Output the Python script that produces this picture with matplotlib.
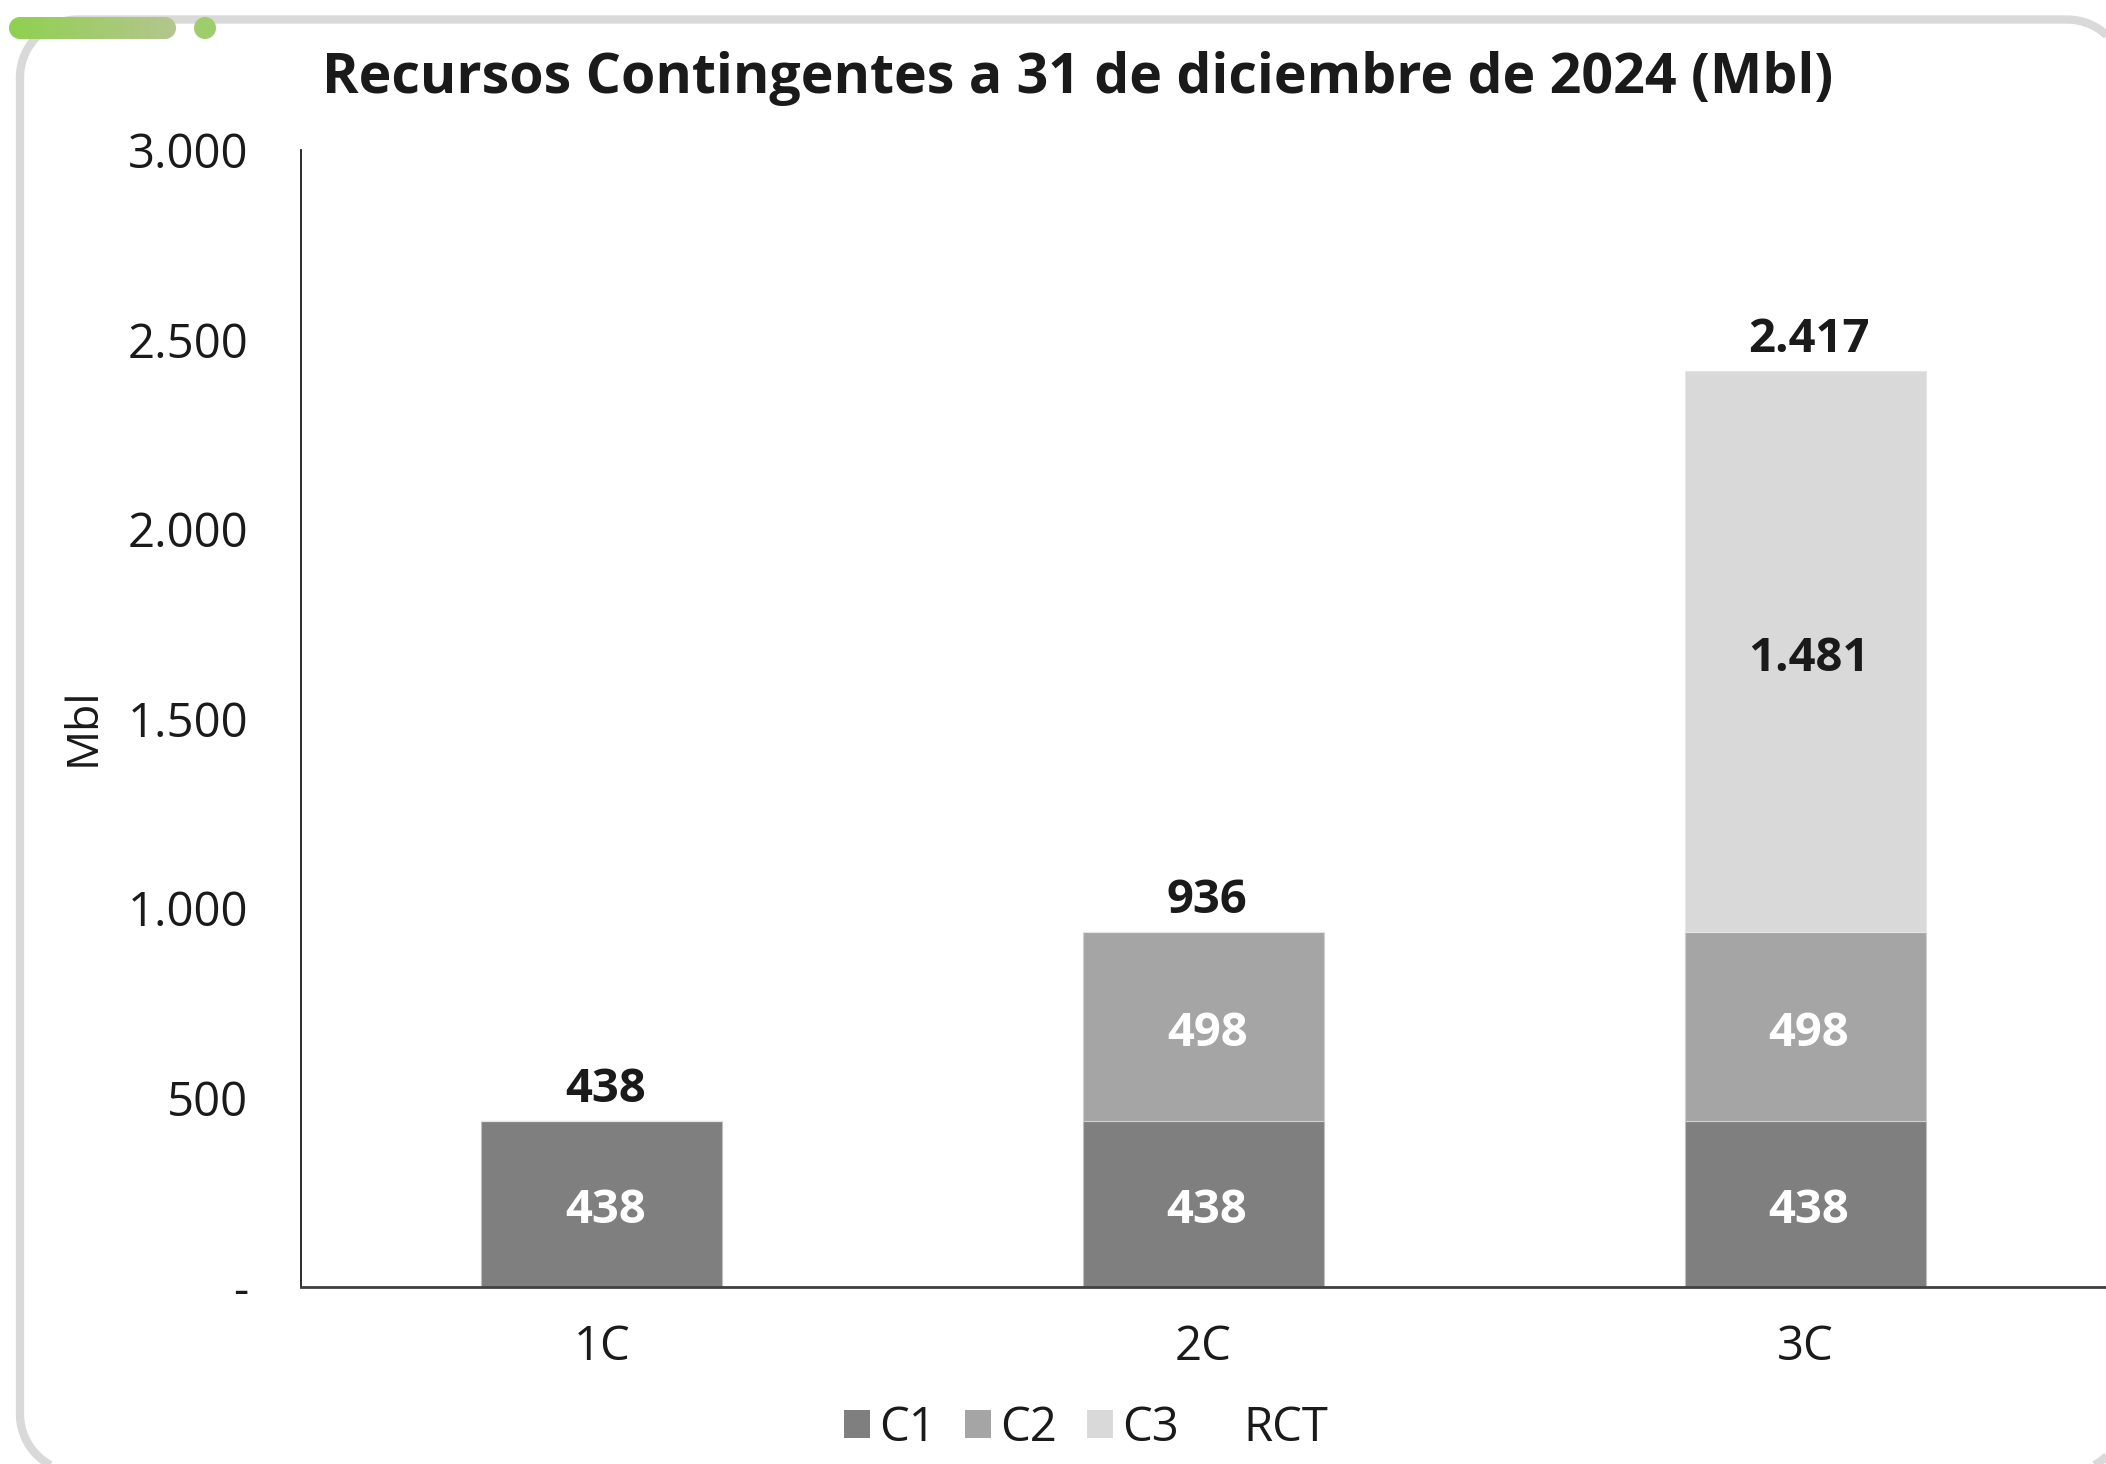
import matplotlib
matplotlib.use("Agg")
import matplotlib.pyplot as plt
import numpy as np
from matplotlib.patches import Patch, Circle, Polygon

# ---------------- data ----------------
categories = ["1C", "2C", "3C"]
c1 = [438, 438, 438]
c2 = [0, 498, 498]
c3 = [0, 0, 1481]
totals = [438, 936, 2417]
series_names = ["C1", "C2", "C3", "RCT"]
colors = ["#7f7f7f", "#a5a5a5", "#d9d9d9"]
yticks = [0, 500, 1000, 1500, 2000, 2500, 3000]
title = "Recursos Contingentes a 31 de diciembre de 2024 (Mbl)"
ylabel = "Mbl"

plt.rcParams['font.family'] = ['Open Sans', 'DejaVu Sans']


def fmt(v):
    if v == 0:
        return "-"
    return f"{v:,.0f}".replace(",", ".")


def rounded_rect(x0, y0, x1, y1, r, n=40):
    """Vertices of a rounded rectangle (y grows downward), as a closed polyline."""
    pts = []
    corners = [((x1 - r, y0 + r), -90, 0),    # top-right
               ((x1 - r, y1 - r), 0, 90),     # bottom-right
               ((x0 + r, y1 - r), 90, 180),   # bottom-left
               ((x0 + r, y0 + r), 180, 270)]  # top-left
    for (cx, cy), a0, a1 in corners:
        t = np.radians(np.linspace(a0, a1, n))
        pts.append(np.column_stack([cx + r * np.cos(t), cy + r * np.sin(t)]))
    return np.vstack(pts)


W, H = 2106, 1464
fig = plt.figure(figsize=(W / 100, H / 100), dpi=100, facecolor="white")

# ---------- background decoration axes (pixel coordinates, y downward) ----------
bg = fig.add_axes([0, 0, 1, 1], zorder=0)
bg.axis("off")

frame = Polygon(rounded_rect(20, 19.5, 2125, 1472, 58), closed=True,
                facecolor="none", edgecolor="#d9d9d9", linewidth=6.0, joinstyle="round")
bg.add_patch(frame)

# green gradient capsule
gx0, gx1, gy0, gy1 = 9, 176, 17, 39
grad = np.linspace(0, 1, 256)
c_start = np.array([143, 209, 79]) / 255
c_end = np.array([180, 198, 142]) / 255
img = (c_start[None, :] * (1 - grad[:, None]) + c_end[None, :] * grad[:, None])[None, :, :]
im = bg.imshow(img, extent=(gx0, gx1, gy1, gy0), aspect="auto", zorder=2)
cap = Polygon(rounded_rect(gx0, gy0, gx1, gy1, (gy1 - gy0) / 2), closed=True,
              facecolor="none", edgecolor="none")
bg.add_patch(cap)
im.set_clip_path(cap)
bg.add_patch(Circle((205, 28), 11, facecolor="#9fcd6b", edgecolor="none", zorder=2))
bg.set_xlim(0, W)
bg.set_ylim(H, 0)

# ---------------- main axes ----------------
ax_left, ax_right, ax_bottom, ax_top = 301, 2106, 1287, 150
ax = fig.add_axes([ax_left / W, (H - ax_bottom) / H,
                   (ax_right - ax_left) / W, (ax_bottom - ax_top) / H], zorder=1)
ax.set_facecolor("none")

x = np.arange(len(categories))
bw = 0.4
ax.bar(x, c1, bw, color=colors[0], edgecolor="#bfbfbf", linewidth=0.8, zorder=3)
ax.bar(x, c2, bw, bottom=c1, color=colors[1], edgecolor="#cfcfcf", linewidth=0.8, zorder=3)
bottom3 = [a + b for a, b in zip(c1, c2)]
ax.bar(x, c3, bw, bottom=bottom3, color=colors[2], edgecolor="#e6e6e6", linewidth=0.8, zorder=3)

lab_fs = 34
inner_off = -5  # points
for i in range(len(categories)):
    xi = x[i] + 0.006
    if c1[i] > 0:
        ax.annotate(fmt(c1[i]), (xi, c1[i] / 2), xytext=(0, inner_off),
                    textcoords="offset points", ha="center", va="center",
                    color="white", fontsize=lab_fs, fontweight="bold", zorder=4)
    if c2[i] > 0:
        ax.annotate(fmt(c2[i]), (xi, c1[i] + c2[i] / 2), xytext=(0, inner_off),
                    textcoords="offset points", ha="center", va="center",
                    color="white", fontsize=lab_fs, fontweight="bold", zorder=4)
    if c3[i] > 0:
        ax.annotate(fmt(c3[i]), (xi, bottom3[i] + c3[i] / 2), xytext=(0, inner_off),
                    textcoords="offset points", ha="center", va="center",
                    color="#1a1a1a", fontsize=lab_fs, fontweight="bold", zorder=4)
    ax.annotate(fmt(totals[i]), (xi, totals[i]), xytext=(0, 23),
                textcoords="offset points", ha="center", va="center",
                color="#1a1a1a", fontsize=lab_fs, fontweight="bold", zorder=4)

ax.set_xlim(-0.5, 2.5)
ax.set_ylim(0, 3000)
ax.set_yticks(yticks)
ax.set_yticklabels([fmt(v) for v in yticks])
ax.set_xticks(x)
ax.set_xticklabels(categories)
ax.tick_params(axis="y", length=0, pad=38, labelsize=34, labelcolor="#1a1a1a")
ax.tick_params(axis="x", length=0, pad=26, labelsize=34, labelcolor="#1a1a1a")
for s in ["top", "right"]:
    ax.spines[s].set_visible(False)
ax.spines["left"].set_color("#1a1a1a")
ax.spines["bottom"].set_color("#404040")
ax.spines["left"].set_linewidth(1.3)
ax.spines["bottom"].set_linewidth(2.0)
ax.spines["bottom"].set_zorder(5)

fig.text(83 / W, 1 - 727 / H, ylabel, rotation=90, ha="center", va="center",
         fontsize=32, color="#1a1a1a")
fig.text(1078 / W, 1 - 78 / H, title, ha="center", va="center",
         fontsize=40, fontweight="bold", color="#1a1a1a")

handles = [Patch(facecolor=colors[0]), Patch(facecolor=colors[1]),
           Patch(facecolor=colors[2]), Patch(facecolor="none", edgecolor="none")]
fig.legend(handles, series_names, loc="center", bbox_to_anchor=(1086 / W, 1 - 1428 / H),
           ncol=4, frameon=False, fontsize=34, handlelength=0.55, handleheight=0.55,
           handletextpad=0.2, columnspacing=0.62, labelcolor="#1a1a1a")

fig.savefig("out.png", dpi=100)
